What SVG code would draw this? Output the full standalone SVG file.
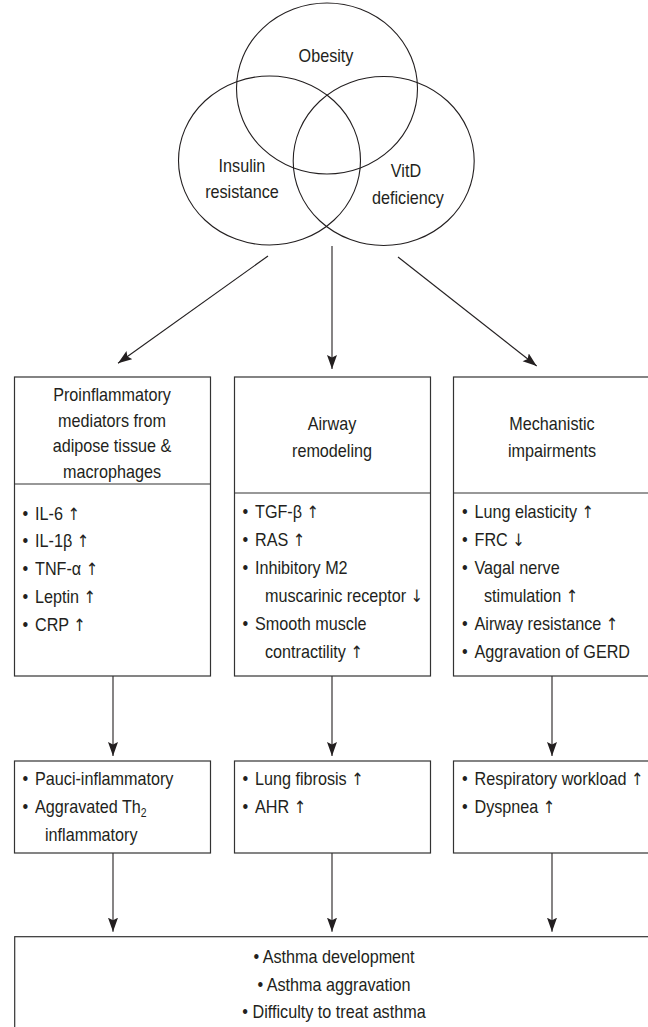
<svg xmlns="http://www.w3.org/2000/svg" width="648" height="1027" viewBox="0 0 648 1027">
<style>
  .t { font-family: "Liberation Sans", Arial, sans-serif; font-size: 18.6px; fill: #231f20; }
  .c { text-anchor: middle; }
  .ar { font-family: "DejaVu Sans", "Noto Sans", sans-serif; font-size: 17px; fill: #231f20; }
  .box { fill: #ffffff; stroke: #333333; stroke-width: 1.2; }
  .div { stroke: #333333; stroke-width: 1.2; fill: none; }
  .ven { fill: none; stroke: #231f20; stroke-width: 1.1; }
  .con { stroke: #231f20; stroke-width: 1.1; fill: none; marker-end: url(#ah); }
</style>
<defs>
  <marker id="ah" markerUnits="userSpaceOnUse" markerWidth="15" markerHeight="11" refX="14" refY="5" orient="auto">
    <path d="M0,0 L14,5 L0,10 L2.5,5 Z" fill="#231f20"/>
  </marker>
</defs>
<rect width="648" height="1027" fill="#ffffff"/>

<g id="venn">
  <ellipse class="ven" cx="327" cy="88.5" rx="90.5" ry="85.5"/>
  <ellipse class="ven" cx="269.5" cy="160.5" rx="91" ry="84.5"/>
  <ellipse class="ven" cx="383.7" cy="161" rx="90.5" ry="84.5"/>
  <text class="t c" transform="translate(326,61.7) scale(0.87,1)">Obesity</text>
  <text class="t c" transform="translate(242,171.5) scale(0.87,1)">Insulin</text>
  <text class="t c" transform="translate(242,198) scale(0.87,1)">resistance</text>
  <text class="t c" transform="translate(406,177) scale(0.87,1)">VitD</text>
  <text class="t c" transform="translate(408,204) scale(0.87,1)">deficiency</text>
</g>

<g id="connectors">
  <line class="con" x1="268" y1="256" x2="118" y2="363.3"/>
  <line class="con" x1="332" y1="246" x2="332" y2="369"/>
  <line class="con" x1="398" y1="257" x2="536.7" y2="366"/>
  <line class="con" x1="113" y1="676" x2="113" y2="756"/>
  <line class="con" x1="332" y1="676" x2="332" y2="756"/>
  <line class="con" x1="552" y1="676" x2="552" y2="756"/>
  <line class="con" x1="113" y1="853" x2="113" y2="931.7"/>
  <line class="con" x1="332" y1="853" x2="332" y2="931.7"/>
  <line class="con" x1="552" y1="853" x2="552" y2="931.7"/>
</g>

<g id="box-proinflammatory">
  <rect class="box" x="14.5" y="377" width="196" height="299"/>
  <line class="div" x1="14.5" y1="484" x2="210.5" y2="484"/>
  <text class="t c" transform="translate(112,401) scale(0.87,1)">Proinflammatory</text>
  <text class="t c" transform="translate(112,426.5) scale(0.87,1)">mediators from</text>
  <text class="t c" transform="translate(112,452) scale(0.87,1)">adipose tissue &amp;</text>
  <text class="t c" transform="translate(112,477.5) scale(0.87,1)">macrophages</text>
  <text class="t" transform="translate(22.5,519.5) scale(0.87,1)"><tspan x="0">•</tspan><tspan x="14.4">IL-6 </tspan><tspan class="ar">↑</tspan></text>
  <text class="t" transform="translate(22.5,547.2) scale(0.87,1)"><tspan x="0">•</tspan><tspan x="14.4">IL-1β </tspan><tspan class="ar">↑</tspan></text>
  <text class="t" transform="translate(22.5,575) scale(0.87,1)"><tspan x="0">•</tspan><tspan x="14.4">TNF-α </tspan><tspan class="ar">↑</tspan></text>
  <text class="t" transform="translate(22.5,602.7) scale(0.87,1)"><tspan x="0">•</tspan><tspan x="14.4">Leptin </tspan><tspan class="ar">↑</tspan></text>
  <text class="t" transform="translate(22.5,630.5) scale(0.87,1)"><tspan x="0">•</tspan><tspan x="14.4">CRP </tspan><tspan class="ar">↑</tspan></text>
</g>

<g id="box-airway">
  <rect class="box" x="234.5" y="377" width="196" height="299"/>
  <line class="div" x1="234.5" y1="493" x2="430.5" y2="493"/>
  <text class="t c" transform="translate(332,430) scale(0.87,1)">Airway</text>
  <text class="t c" transform="translate(332,456.5) scale(0.87,1)">remodeling</text>
  <text class="t" transform="translate(242.5,517.5) scale(0.87,1)"><tspan x="0">•</tspan><tspan x="14.4">TGF-β </tspan><tspan class="ar">↑</tspan></text>
  <text class="t" transform="translate(242.5,545.6) scale(0.87,1)"><tspan x="0">•</tspan><tspan x="14.4">RAS </tspan><tspan class="ar">↑</tspan></text>
  <text class="t" transform="translate(242.5,573.7) scale(0.87,1)"><tspan x="0">•</tspan><tspan x="14.4">Inhibitory M2</tspan></text>
  <text class="t" transform="translate(265,601.8) scale(0.87,1)">muscarinic receptor <tspan class="ar">↓</tspan></text>
  <text class="t" transform="translate(242.5,629.9) scale(0.87,1)"><tspan x="0">•</tspan><tspan x="14.4">Smooth muscle</tspan></text>
  <text class="t" transform="translate(265,658) scale(0.87,1)">contractility <tspan class="ar">↑</tspan></text>
</g>

<g id="box-mechanistic">
  <rect class="box" x="453.5" y="377" width="197" height="299"/>
  <line class="div" x1="453.5" y1="493" x2="650.5" y2="493"/>
  <text class="t c" transform="translate(552,430) scale(0.87,1)">Mechanistic</text>
  <text class="t c" transform="translate(552,456.5) scale(0.87,1)">impairments</text>
  <text class="t" transform="translate(462,517.5) scale(0.87,1)"><tspan x="0">•</tspan><tspan x="14.4">Lung elasticity </tspan><tspan class="ar">↑</tspan></text>
  <text class="t" transform="translate(462,545.6) scale(0.87,1)"><tspan x="0">•</tspan><tspan x="14.4">FRC </tspan><tspan class="ar">↓</tspan></text>
  <text class="t" transform="translate(462,573.7) scale(0.87,1)"><tspan x="0">•</tspan><tspan x="14.4">Vagal nerve</tspan></text>
  <text class="t" transform="translate(484,601.8) scale(0.87,1)">stimulation <tspan class="ar">↑</tspan></text>
  <text class="t" transform="translate(462,629.9) scale(0.87,1)"><tspan x="0">•</tspan><tspan x="14.4">Airway resistance </tspan><tspan class="ar">↑</tspan></text>
  <text class="t" transform="translate(462,658) scale(0.87,1)"><tspan x="0">•</tspan><tspan x="14.4">Aggravation of GERD</tspan></text>
</g>

<g id="box-inflammatory">
  <rect class="box" x="14.5" y="761" width="196" height="92"/>
  <text class="t" transform="translate(22.5,785) scale(0.87,1)"><tspan x="0">•</tspan><tspan x="14.4">Pauci-inflammatory</tspan></text>
  <text class="t" transform="translate(22.5,813) scale(0.87,1)"><tspan x="0">•</tspan><tspan x="14.4">Aggravated Th</tspan><tspan font-size="12" dy="4">2</tspan></text>
  <text class="t" transform="translate(45,840.7) scale(0.87,1)">inflammatory</text>
</g>

<g id="box-fibrosis">
  <rect class="box" x="234.5" y="761" width="196" height="92"/>
  <text class="t" transform="translate(242.5,784.5) scale(0.87,1)"><tspan x="0">•</tspan><tspan x="14.4">Lung fibrosis </tspan><tspan class="ar">↑</tspan></text>
  <text class="t" transform="translate(242.5,813) scale(0.87,1)"><tspan x="0">•</tspan><tspan x="14.4">AHR </tspan><tspan class="ar">↑</tspan></text>
</g>

<g id="box-workload">
  <rect class="box" x="453.5" y="761" width="197" height="92"/>
  <text class="t" transform="translate(462,785) scale(0.87,1)"><tspan x="0">•</tspan><tspan x="14.4">Respiratory workload </tspan><tspan class="ar">↑</tspan></text>
  <text class="t" transform="translate(462,813) scale(0.87,1)"><tspan x="0">•</tspan><tspan x="14.4">Dyspnea </tspan><tspan class="ar">↑</tspan></text>
</g>

<g id="box-asthma">
  <rect class="box" x="14.7" y="936.7" width="700" height="200"/>
  <text class="t c" transform="translate(334,963) scale(0.87,1)">• Asthma development</text>
  <text class="t c" transform="translate(334,990.5) scale(0.87,1)">• Asthma aggravation</text>
  <text class="t c" transform="translate(334,1018) scale(0.87,1)">• Difficulty to treat asthma</text>
</g>
</svg>
